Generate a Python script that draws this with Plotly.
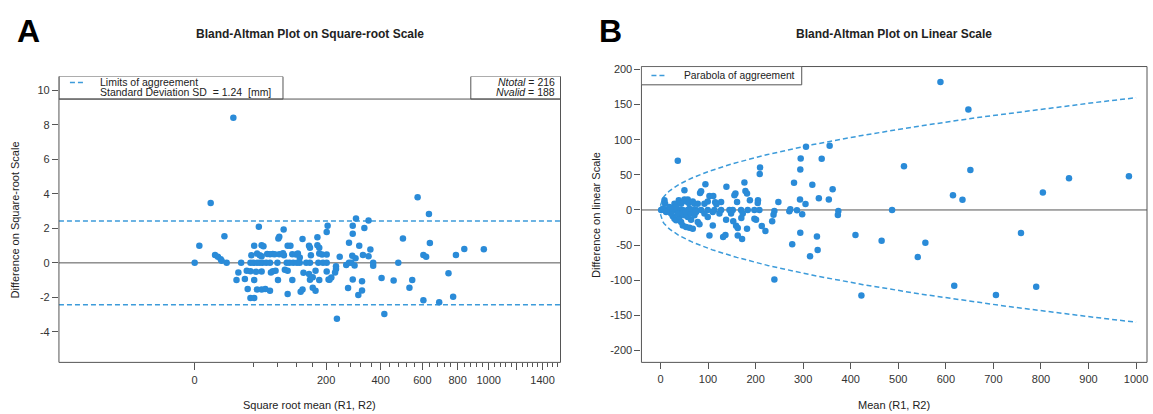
import numpy as np
import plotly.graph_objects as go

W, H = 1153, 414

# ---------------- Data: panel A (square-root scale) ----------------
sqrt_mean_A = [
    0, 0.5, 1.72, 2.19, 2.5, 2.8, 2.9, 3.2, 3.44, 4.16,
    6.9, 9.57, 14.3, 14.2,
    9.1, 9.0, 11.6, 13.2,
    6.4, 7.2, 7.4, 10.0, 10.3, 12.3, 12.4, 13.2, 13.4,
    6.1, 6.7, 7.0, 7.2, 7.8, 8.1, 8.4, 8.6, 9.1, 9.5, 9.6, 10.5, 10.9, 11.1, 11.3, 12.5, 13.4, 13.7, 14.2,
    5.0, 6.0, 6.3, 6.7, 7.0, 7.3, 7.7, 8.1, 8.9, 9.9, 10.2, 10.6, 11.0, 11.3, 12.0, 12.4, 13.3, 13.8, 14.2,
    4.7, 5.6, 6.0, 6.6, 7.2, 8.2, 8.4, 8.7, 9.7, 10.0, 11.7, 12.3, 13.0, 14.2,
    4.5, 5.4, 6.4, 8.96, 10.5, 12.4, 12.7, 13.4, 14.4,
    5.7, 6.7, 7.2, 7.6, 8.1, 11.4, 11.6, 12.7, 13.0,
    10.0, 6.0, 6.4,
    23.98, 25.2, 17.35, 18.7, 17.0, 18.25, 17.0, 16.6, 17.7, 18.9,
    18.1, 18.7, 16.95, 17.3, 15.6, 22.4, 25.3, 24.6, 24.9, 28.1,
    29.0, 31.1, 16.3, 16.6, 16.85, 17.2, 19.2, 19.2, 21.9, 15.2,
    15.2, 15.1, 14.7, 14.5, 27.3, 20.1, 21.4, 23.4, 17.0, 18.0,
    23.1, 16.5, 18.0, 17.6, 24.6, 26.3, 27.8, 20.4, 15.3,
]
diff_A = [
    0, 1.0, 3.47, 0.46, 0.36, 0.21, 0.12, 1.55, 0, 8.41,
    2.09, 1.94, 2.15, 1.79,
    1.52, 1.42, 1.38, 1.48,
    1.0, 1.02, 0.96, 1.0, 1.0, 1.0, 0.88, 1.02, 0.88,
    0.44, 0.54, 0.44, 0.38, 0.52, 0.5, 0.52, 0.5, 0.5, 0.56, 0.44, 0.5, 0.48, 0.54, 0.31, 0.44, 0.54, 0.48, 0.48,
    0, 0, 0, 0, 0, 0, 0, 0, 0, 0, 0, 0, 0, 0, 0, 0, 0, 0, 0,
    -0.56, -0.46, -0.48, -0.52, -0.5, -0.56, -0.48, -0.46, -0.4, -0.46, -0.58, -0.65, -0.46, -0.5,
    -1.0, -0.94, -1.0, -1.0, -1.0, -0.98, -0.84, -1.0, -0.96,
    -1.52, -1.54, -1.54, -1.52, -1.61, -1.67, -1.54, -1.44, -1.61,
    -1.8, -2.04, -2.04,
    3.80, 2.84, 2.57, 2.46, 2.15, 2.02, 1.69, 1.17, 1.0, 0.77,
    0.46, 0.38, 0.42, 0.27, 0.36, 1.42, 1.15, 0.46, 0.35, 0.46,
    0.81, 0.79, -0.12, 0, 0, -0.15, 0, -0.17, 0, -0.2,
    -0.36, -0.56, -0.85, -0.98, -0.6, -0.88, -1.02, -1.0, -0.96, -1.06,
    -1.44, -1.46, -1.6, -1.86, -2.17, -2.28, -1.96, -2.96, -3.24,
]

SD = 1.24
Z = 1.96
N_TOTAL = 216
N_VALID = 188

xA_major_labels = [0, 200, 400, 600, 800, 1000, 1200, 1400]
xA_major_text = ["0", "200", "400", "600", "800", "1000", "", "1400"]
xA_minor = [v for v in range(40, 1600, 40) if v % 200 != 0]
yA_ticks = [-4, -2, 0, 2, 4, 6, 8, 10]

# ---------------- Data: panel B (linear scale) ----------------
mean_B = [
    209.4, 208.7, 94.5, 176.5, 138.7, 50.4, 85.4, 83.3, 103, 111,
    157.6, 155.5, 178.6, 182, 188, 205, 204.5, 161, 127.5, 115,
    117.6, 8.4, 9.8, 38.5, 50.4, 57.4, 29.4, 32.9, 43.4, 54.6,
    59.5, 67.9, 71.4, 78.4, 92.4, 99.4,
    1.4, 8.4, 15.4, 22.4, 29.4, 39.9, 46.9, 57.4, 67.9, 74.9,
    85.4, 99.4, 113.4, 127.5, 145, 152, 169.5, 183.5, 197.5, 208,
    197.5, 201, 170, 138, 153, 110, 78.4, 82, 64.4, 57.4,
    50.4, 22.4, 25.9, 29.4, 32.9, 39.9, 43.4, 46.9, 53.9, 60.9,
    67.9, 162.5, 159, 182, 213, 220.6, 103, 131.7, 136.6, 162.5, 171.6,
    18.9, 4.9, 11.9, 36.4, 46.9, 53.9, 64.4, 71.4, 25.9, 32.9,
    60.9, 74.9, 92.4, 99.4, 110, 124, 148.5, 173,
    306, 355.7, 294.8, 339, 294, 280.8, 319.3, 362, 247.9, 293.4,
    305, 333, 354, 239.5, 237.7, 234.9, 271, 273, 287, 298,
    374, 373, 294, 329, 277, 330.5, 314.5,
    588.7, 647.4, 512, 651.6, 615, 635, 804, 859, 985, 487,
    410, 465, 557, 541, 758, 422.5, 617.7, 705.4, 790,
    36.4, 239.5,
]
diff_B = [
    60.5, 51, 36.7, 39, 32.9, 28.1, 26.7, 24.3, 20, 20,
    23.3, 21, 27, 23.3, 13.8, 13.8, 10, 11.4, 11.4, 11,
    8, 13.8, 9, 13.8, 14.8, 14.8, 9, 7, 9, 12,
    10, 12, 9, 9, 9, 12,
    0, 0, 0, 0, 0, 0, 0, 0, 0, 0,
    0, 0, 0, 0, 0, 0, 0, 0, 0, 0,
    -12.4, -13.8, -11.4, -13.8, -16.2, -22, -17, -20.5, -13.8, -10,
    -7.6, -5.2, -9, -12.4, -14.8, -10, -17, -22, -24.3, -25.2,
    -26.7, -25.7, -22.4, -26.7, -22.9, -30, -36.2, -38.6, -35.7, -36.2, -41.4,
    4.3, 1.9, -2.9, -5.2, -5.2, -2.9, -5.2, -7.6, 1.9, 4.3,
    1.9, -2.9, -5.2, -10, -2.9, -5.2, -5.2, -5.2,
    90, 91.4, 73.3, 73, 57.6, 38.6, 35.7, 29.5, 11.4, 14.8,
    8.6, 16.7, 14.8, -1.4, -6.7, -16.2, -1.9, 1, -0.5, -6.2,
    -1.4, -7, -32.4, -37.6, -48.6, -57, -65.7,
    182, 143, 62.3, 57, 21, 14.7, 24.8, 45, 47.9, 0,
    -35.7, -43.9, -46.8, -67, -32.8, -121.8, -107.9, -120.8, -109.3,
    70, -99,
]

xB_ticks = [0, 100, 200, 300, 400, 500, 600, 700, 800, 900, 1000]
yB_ticks = [-200, -150, -100, -50, 0, 50, 100, 150, 200]

# ---------------- Styling ----------------
PT = "#2A8BD8"
DASH = "#3C9BDA"
FRAME = "#555555"
TXT = "#222222"
FONT = "Liberation Sans, Arial, sans-serif"


def px(x):
    return x / W


def py(y):
    return 1 - y / H


def lab(v):
    return str(v).replace("\u2212", "-")


loa = Z * SD
xA_range = [-14.6, 39.35]
yA_range = [-5.77, 10.81]
xB_range = [-40, 1023]
yB_range = [-216.8, 204]

fig = go.Figure()

# Panel A points
fig.add_trace(go.Scatter(
    x=sqrt_mean_A, y=diff_A, mode="markers",
    marker=dict(size=6.5, color=PT), xaxis="x", yaxis="y",
    showlegend=False, hoverinfo="skip"))

# Panel B parabola of agreement
xs = np.linspace(0, 1000, 400)
par = 2 * loa * np.sqrt(xs) + loa ** 2
for sgn in (1, -1):
    fig.add_trace(go.Scatter(
        x=xs, y=sgn * par, mode="lines",
        line=dict(color=DASH, width=1.5, dash="5px,3px"),
        xaxis="x2", yaxis="y2", showlegend=False, hoverinfo="skip"))

fig.add_trace(go.Scatter(
    x=mean_B, y=diff_B, mode="markers",
    marker=dict(size=6.5, color=PT), xaxis="x2", yaxis="y2",
    showlegend=False, hoverinfo="skip"))

shapes = []


def hline(xref, yref, y, color, dash=None, width=1.0):
    d = dict(type="line", xref=xref + " domain", yref=yref, x0=0, x1=1, y0=y, y1=y,
             line=dict(color=color, width=width), layer="below")
    if dash:
        d["line"]["dash"] = dash
    return d


# Panel A lines
shapes.append(hline("x", "y", loa, DASH, "5px,3px", 1.5))
shapes.append(hline("x", "y", -loa, DASH, "5px,3px", 1.5))
shapes.append(hline("x", "y", 0, FRAME, None, 1.0))
shapes.append(hline("x", "y", 9.5, FRAME, None, 1.0))
# Panel A frame (left, right, bottom)
for x0, x1, y0, y1 in [(0, 0, 0, 1), (1, 1, 0, 1), (0, 1, 0, 0)]:
    shapes.append(dict(type="line", xref="x domain", yref="y domain",
                       x0=x0, x1=x1, y0=y0, y1=y1, line=dict(color=FRAME, width=1)))
# Panel A legend boxes
shapes.append(dict(type="rect", xref="x", yref="y", x0=xA_range[0], x1=9.5,
                   y0=9.5, y1=yA_range[1], line=dict(color=FRAME, width=1)))
shapes.append(dict(type="rect", xref="x", yref="y", x0=29.7, x1=xA_range[1],
                   y0=9.5, y1=yA_range[1], line=dict(color=FRAME, width=1)))
# Panel A legend dash sample
shapes.append(dict(type="line", xref="paper", yref="paper", x0=px(70), x1=px(86),
                   y0=py(80), y1=py(80), line=dict(color=DASH, width=1.5, dash="5px,3px")))

# Panel B lines
shapes.append(hline("x2", "y2", 0, FRAME, None, 1.0))
shapes.append(dict(type="rect", xref="x2 domain", yref="y2 domain", x0=0, x1=1, y0=0, y1=1,
                   line=dict(color=FRAME, width=1)))
shapes.append(dict(type="rect", xref="x2", yref="y2", x0=xB_range[0], x1=297,
                   y0=178, y1=yB_range[1], line=dict(color=FRAME, width=1),
                   fillcolor="white", layer="above"))
shapes.append(dict(type="line", xref="paper", yref="paper", x0=px(652), x1=px(668),
                   y0=py(73), y1=py(73), line=dict(color=DASH, width=1.5, dash="5px,3px")))

ann = []


def text(x, y, t, size=11, bold=False, xa="center", ya="middle", angle=0):
    s = f"<b>{t}</b>" if bold else t
    ann.append(dict(x=px(x), y=py(y), xref="paper", yref="paper", text=s,
                    showarrow=False, xanchor=xa, yanchor=ya, textangle=angle,
                    font=dict(family=FONT, size=size, color=TXT if not bold or size < 20 else "#000")))


text(29, 28, "A", size=32, bold=True)
text(611, 28, "B", size=32, bold=True)
text(310, 31, "Bland-Altman Plot on Square-root Scale", size=12, bold=True)
text(895, 31, "Bland-Altman Plot on Linear Scale", size=12, bold=True)
text(98, 80, "Limits of aggreement", size=10.5, xa="left")
text(98, 90, f"Standard Deviation SD  = {SD:.2f}  [mm]", size=10.5, xa="left")
text(557, 80, f"<i>Ntotal</i> = {N_TOTAL}", size=10.5, xa="right")
text(557, 90, f"<i>Nvalid</i> = {N_VALID}", size=10.5, xa="right")
text(683, 73, "Parabola of aggreement", size=10.3, xa="left")
text(310, 405, "Square root mean (R1, R2)", size=11)
text(895, 405, "Mean (R1, R2)", size=11)
text(15, 218, "Difference on Square-root Scale", size=11, angle=-90)
text(597, 213, "Difference on linear Scale", size=11, angle=-90)

axis_common = dict(showgrid=False, zeroline=False, showline=False, ticks="outside",
                   tickwidth=1, tickcolor=FRAME,
                   tickfont=dict(family=FONT, size=11, color="#333"))

fig.update_layout(
    width=W, height=H, margin=dict(l=0, r=0, t=0, b=0),
    paper_bgcolor="white", plot_bgcolor="white",
    shapes=shapes, annotations=ann,
    xaxis=dict(domain=[px(59), px(561)], range=xA_range, anchor="y",
               tickmode="array", tickvals=list(np.sqrt(xA_major_labels)),
               ticktext=xA_major_text, ticklen=7,
               minor=dict(tickmode="array", tickvals=list(np.sqrt(xA_minor)),
                          ticks="outside", ticklen=4, tickcolor=FRAME, showgrid=False),
               **axis_common),
    yaxis=dict(domain=[py(362), py(74)], range=yA_range, anchor="x", ticklen=6,
               tickmode="array", tickvals=yA_ticks, ticktext=[lab(v) for v in yA_ticks],
               **axis_common),
    xaxis2=dict(domain=[px(642), px(1148)], range=xB_range, anchor="y2", ticklen=6,
                tickmode="array", tickvals=xB_ticks, ticktext=[lab(v) for v in xB_ticks],
                **axis_common),
    yaxis2=dict(domain=[py(362), py(64)], range=yB_range, anchor="x2", ticklen=6,
                tickmode="array", tickvals=yB_ticks, ticktext=[lab(v) for v in yB_ticks],
                **axis_common),
)

fig.write_html(
    "out.html",
    config={"displayModeBar": False},
    post_script="document.body.style.margin='0';document.body.style.overflow='hidden';",
)
